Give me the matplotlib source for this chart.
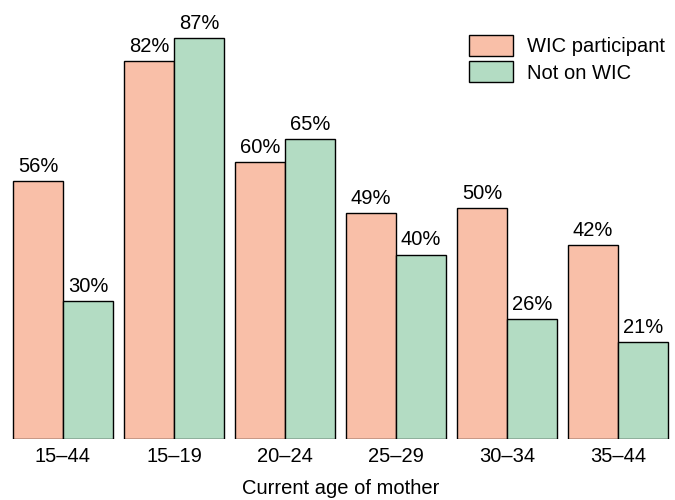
import matplotlib
matplotlib.use("Agg")
import matplotlib.pyplot as plt
from matplotlib.patches import Patch
import numpy as np

plt.rcParams['font.family'] = ['Liberation Sans', 'DejaVu Sans']

categories = ["15\u201344", "15\u201319", "20\u201324", "25\u201329", "30\u201334", "35\u201344"]
wic = [56, 82, 60, 49, 50, 42]
not_wic = [30, 87, 65, 40, 26, 21]
series_names = ["WIC participant", "Not on WIC"]
xlabel = "Current age of mother"

c_wic = "#F9BFA8"
c_not = "#B3DCC3"
fs = 14.5

fig = plt.figure(figsize=(6.75, 5), dpi=100)
ax = fig.add_axes([7.5/675, 61/500, 666/675, 415/500])
x = np.arange(len(categories))
w = 0.45
b1 = ax.bar(x - w/2, wic, w, color=c_wic, edgecolor="black", linewidth=1)
b2 = ax.bar(x + w/2, not_wic, w, color=c_not, edgecolor="black", linewidth=1)
for bars, vals in ((b1, wic), (b2, not_wic)):
    for r, v in zip(bars, vals):
        ax.text(r.get_x() + r.get_width()/2, v + 1.1, f"{v}%", ha="center", va="bottom", fontsize=fs)
ax.set_xlim(-0.5, len(categories) - 0.5)
ax.set_ylim(0, 90)
for s in ax.spines.values():
    s.set_visible(False)
ax.set_yticks([])
ax.set_xticks(x)
ax.set_xticklabels(categories, fontsize=fs)
ax.tick_params(axis="x", length=0, pad=6)
ax.set_xlabel(xlabel, fontsize=fs, labelpad=9)
handles = [Patch(facecolor=c_wic, edgecolor="black"), Patch(facecolor=c_not, edgecolor="black")]
ax.legend(handles, series_names, loc="upper left", bbox_to_anchor=(469/675, 1 - 35/500),
          bbox_transform=fig.transFigure, frameon=False, borderpad=0, borderaxespad=0,
          fontsize=fs, handlelength=2.2, handleheight=1.23, labelspacing=0.25, handletextpad=0.7)
fig.savefig("out.png", dpi=100)
